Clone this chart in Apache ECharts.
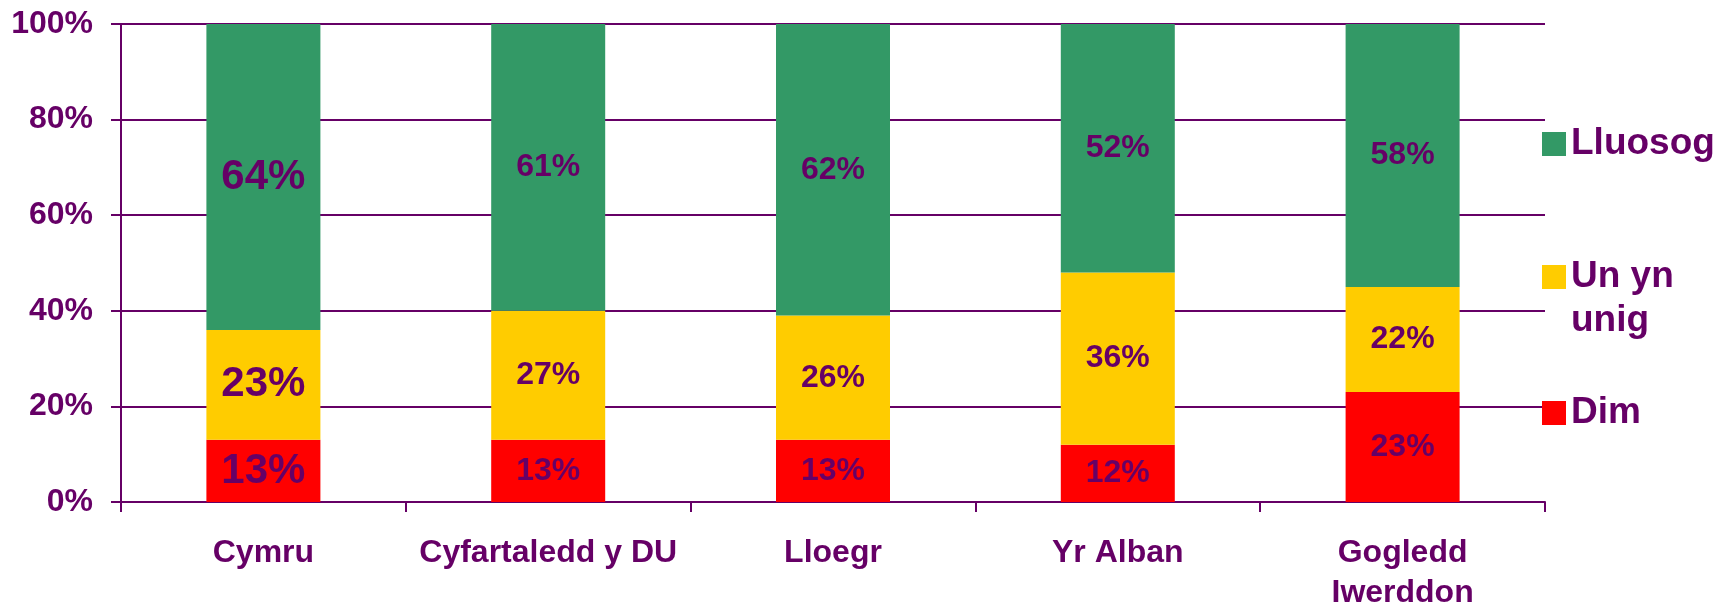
<!DOCTYPE html>
<html>
<head>
<meta charset="utf-8">
<script src="https://cdn.jsdelivr.net/npm/echarts@6/dist/echarts.min.js"></script>
<style>
    html, body { margin: 0; padding: 0; background: #fff; }
    #main { width: 1725px; height: 613px; }
</style>
</head>
<body>
<div id="main"></div>
<script>
// categories and values (percentages)
const categories = ['Cymru', 'Cyfartaledd y DU', 'Lloegr', 'Yr Alban', 'Gogledd\nIwerddon'];
const dim = [13, 13, 13, 12, 23];
const unYnUnig = [23, 27, 26, 36, 22];
const lluosog = [64, 61, 62, 52, 58];
const yTicks = [0, 20, 40, 60, 80, 100];

const purple = '#660066';
const font = '"Liberation Sans", Arial, sans-serif';

// Cymru gets bigger labels than the rest
const toData = (arr) => arr.map((v, i) => i === 0
    ? { value: v, label: { fontSize: 42 } }
    : { value: v });

const makeSeries = (name, arr, color) => ({
    name: name,
    type: 'bar',
    stack: 'total',
    barWidth: 114,
    itemStyle: { color: color },
    label: {
        show: true,
        position: 'inside',
        formatter: '{c}%',
        color: purple,
        fontFamily: font,
        fontWeight: 'bold',
        fontSize: 32
    },
    data: toData(arr)
});

const legendText = {
    color: purple,
    fontFamily: font,
    fontWeight: 'bold',
    fontSize: 37,
    lineHeight: 44
};

const chart = echarts.init(document.getElementById('main'));
chart.setOption({
    animation: false,
    grid: { left: 121, right: 180, top: 24, bottom: 102 },
    legend: [
        {
            data: ['Lluosog'], left: 1542, top: 122, padding: 0,
            itemWidth: 24, itemHeight: 24, icon: 'rect',
            textStyle: legendText
        },
        {
            // blank first line keeps the icon level with "Un yn"
            data: ['Un yn unig'], left: 1542, top: 211, padding: 0,
            itemWidth: 24, itemHeight: 24, icon: 'rect',
            formatter: () => ' \nUn yn\nunig',
            textStyle: legendText
        },
        {
            data: ['Dim'], left: 1542, top: 391, padding: 0,
            itemWidth: 24, itemHeight: 24, icon: 'rect',
            textStyle: legendText
        }
    ],
    xAxis: {
        type: 'category',
        data: categories,
        axisLine: { lineStyle: { color: purple, width: 2 } },
        axisTick: { show: true, length: 10, lineStyle: { color: purple, width: 2 } },
        axisLabel: {
            color: purple,
            fontFamily: font,
            fontWeight: 'bold',
            fontSize: 32,
            lineHeight: 40,
            margin: 31,
            interval: 0
        }
    },
    yAxis: {
        type: 'value',
        min: yTicks[0],
        max: yTicks[yTicks.length - 1],
        interval: 20,
        axisLine: { show: true, lineStyle: { color: purple, width: 2 } },
        axisTick: { show: true, length: 10, lineStyle: { color: purple, width: 2 } },
        splitLine: { show: true, lineStyle: { color: purple, width: 2 } },
        axisLabel: {
            color: purple,
            fontFamily: font,
            fontWeight: 'bold',
            fontSize: 32,
            margin: 28,
            formatter: '{value}%'
        }
    },
    series: [
        makeSeries('Dim', dim, '#FF0000'),
        makeSeries('Un yn unig', unYnUnig, '#FFCC00'),
        makeSeries('Lluosog', lluosog, '#339966')
    ]
});
</script>
</body>
</html>
